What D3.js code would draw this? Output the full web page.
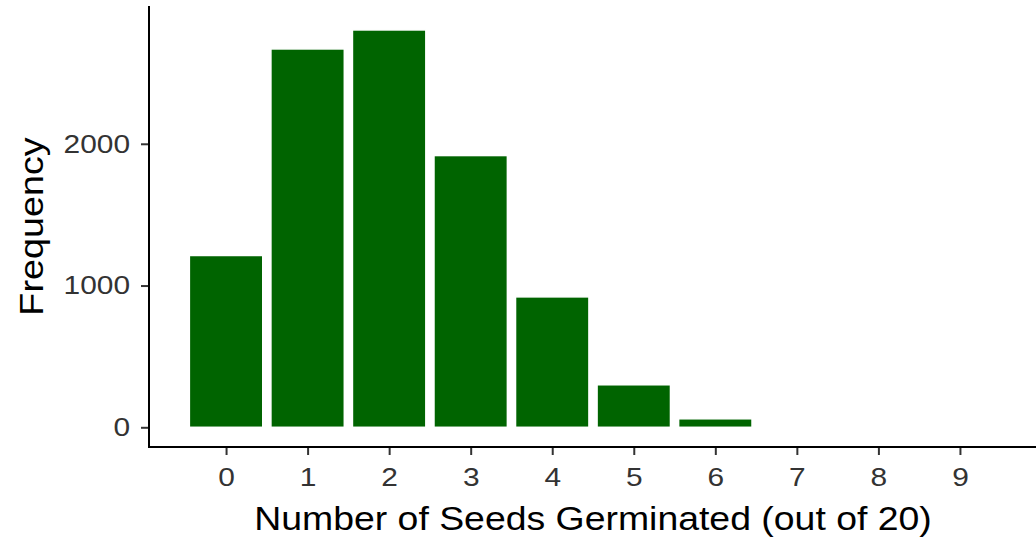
<!DOCTYPE html>
<meta charset="utf-8">
<style>
    body { margin: 0; background: #fff; }
    text { font-family: "Liberation Sans", Arial, sans-serif; }
</style>
<svg width="1036" height="538"></svg>

<script src="https://d3js.org/d3.v7.min.js"></script>
<script>
    // germination counts
    var seeds = [0, 1, 2, 3, 4, 5, 6];
    var counts = [1212, 2669, 2803, 1917, 920, 300, 60];
    var xTicks = [0, 1, 2, 3, 4, 5, 6, 7, 8, 9];
    var yTicks = [0, 1000, 2000];

    (function () {
        var svg = d3.select("svg"),
            left = 149, right = 1037, top = 6, bottom = 447,
            x = d3.scaleLinear().domain([-0.945, 9.945]).range([left, right]),
            y = d3.scaleLinear().domain([-139, 2972]).range([bottom, top]),
            halfWidth = 0.45,
            stretch = 1.15;

        svg.append("g")
            .selectAll("rect")
            .data(seeds)
            .enter()
            .append("rect")
            .attr("x", function (d) { return x(d - halfWidth); })
            .attr("y", function (d, i) { return y(counts[i]); })
            .attr("width", function (d) { return x(d + halfWidth) - x(d - halfWidth); })
            .attr("height", function (d, i) { return y(0) - y(counts[i]); })
            .attr("fill", "#006400")
            .attr("stroke", "#fff")
            .attr("stroke-width", 1.5);

        var xAxis = svg.append("g")
            .attr("transform", "translate(0," + bottom + ")")
            .call(d3.axisBottom(x).tickValues(xTicks).tickSize(8).tickPadding(13).tickFormat(d3.format("d")));

        var yAxis = svg.append("g")
            .attr("transform", "translate(" + left + ",0)")
            .call(d3.axisLeft(y).tickValues(yTicks).tickSize(8).tickPadding(8.5).tickFormat(d3.format("d")));

        [xAxis, yAxis].forEach(function (g) {
            g.select(".domain").remove();
            g.selectAll(".tick line").attr("stroke", "#333").attr("stroke-width", 2);
            g.selectAll(".tick text")
                .attr("fill", "#333")
                .attr("transform", "scale(" + stretch + ",1)")
                .style("font-size", "26px")
                .style("font-family", "'Liberation Sans', Arial, sans-serif");
        });

        // axis lines
        svg.append("line")
            .attr("x1", left).attr("x2", right)
            .attr("y1", bottom).attr("y2", bottom)
            .attr("stroke", "#000").attr("stroke-width", 2);
        svg.append("line")
            .attr("x1", left).attr("x2", left)
            .attr("y1", top).attr("y2", bottom + 1)
            .attr("stroke", "#000").attr("stroke-width", 2);

        svg.append("text")
            .attr("transform", "translate(" + (left + right) / 2 + ",530) scale(1.1,1)")
            .attr("text-anchor", "middle")
            .style("font-size", "34px")
            .text("Number of Seeds Germinated (out of 20)");

        svg.append("text")
            .attr("transform", "translate(43," + (top + bottom) / 2 + ") rotate(-90) scale(1.11,1)")
            .attr("text-anchor", "middle")
            .style("font-size", "34px")
            .text("Frequency");
    })();
</script>
